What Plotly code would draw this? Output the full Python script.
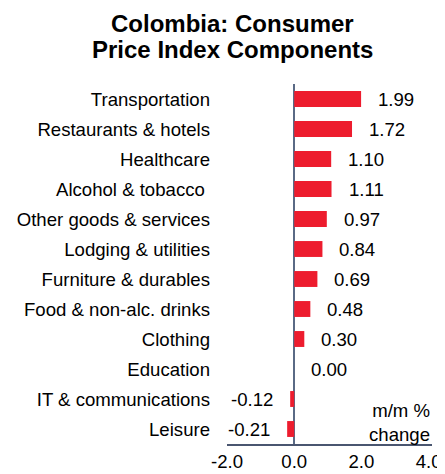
import plotly.graph_objects as go

categories = ["Transportation", "Restaurants & hotels", "Healthcare", "Alcohol & tobacco ",
              "Other goods & services", "Lodging & utilities", "Furniture & durables",
              "Food & non-alc. drinks", "Clothing", "Education", "IT & communications", "Leisure"]
values = [1.99, 1.72, 1.10, 1.11, 0.97, 0.84, 0.69, 0.48, 0.30, 0.00, -0.12, -0.21]
x_ticks = [-2, 0, 2, 4]
x_tick_labels = ["-2.0", "0.0", "2.0", "4.0"]
title_lines = ["Colombia: Consumer", "Price Index Components"]
unit_note = "m/m %<br>change"

FONT = "Liberation Sans, Arial, sans-serif"
OFF = 8  # page body margin offset
W, H = 445 - OFF, 474 - OFF
L, R, T, B = 227 - OFF, 13, 84 - OFF, 30
PH = H - T - B
FS = 18.6

fig = go.Figure()
fig.add_trace(go.Bar(
    x=values, y=categories, orientation="h",
    marker=dict(color="#ED1C2E", line=dict(width=0)),
    width=0.53, showlegend=False,
))

for c, v in zip(categories, values):
    fig.add_annotation(
        x=v, y=c, xref="x", yref="y", text=f"{v:.2f}", showarrow=False,
        xanchor="left" if v >= 0 else "right", xshift=15 if v >= 0 else -15,
        font=dict(family=FONT, size=FS, color="#000000"),
    )

# title lines (centres at 24px and 50px from top of the window, x centre at 232px)
for line, yc in zip(title_lines, [24 - OFF, 50 - OFF]):
    fig.add_annotation(x=(232 - OFF - L) / (W - L - R), y=(H - B - yc) / PH, xref="paper", yref="paper",
                       text=f"<b>{line}</b>", showarrow=False, xanchor="center", yanchor="middle",
                       font=dict(family=FONT, size=24, color="#000000"))

fig.add_annotation(x=1, y=(H - B - (422 - OFF)) / PH, xref="paper", yref="paper", text=unit_note,
                   showarrow=False, xanchor="right", yanchor="middle", align="right",
                   font=dict(family=FONT, size=FS, color="#000000"))

fig.update_layout(
    width=W, height=H,
    margin=dict(l=L, r=R, t=T, b=B, autoexpand=False),
    paper_bgcolor="white", plot_bgcolor="white",
    font=dict(family=FONT, size=FS, color="#000000"),
    bargap=0.47,
)
fig.update_xaxes(range=[-2, 4.1], tickvals=x_ticks, ticktext=x_tick_labels, automargin=False,
                 showgrid=False, zeroline=True, zerolinecolor="#5A6A85", zerolinewidth=2,
                 showline=True, linecolor="#4A5670", linewidth=2, ticks="",
                 tickfont=dict(size=FS))
fig.update_yaxes(autorange="reversed", showgrid=False, showline=False, ticks="", automargin=False,
                 ticklabelstandoff=16, tickfont=dict(size=FS))

fig.write_html("out.html")
